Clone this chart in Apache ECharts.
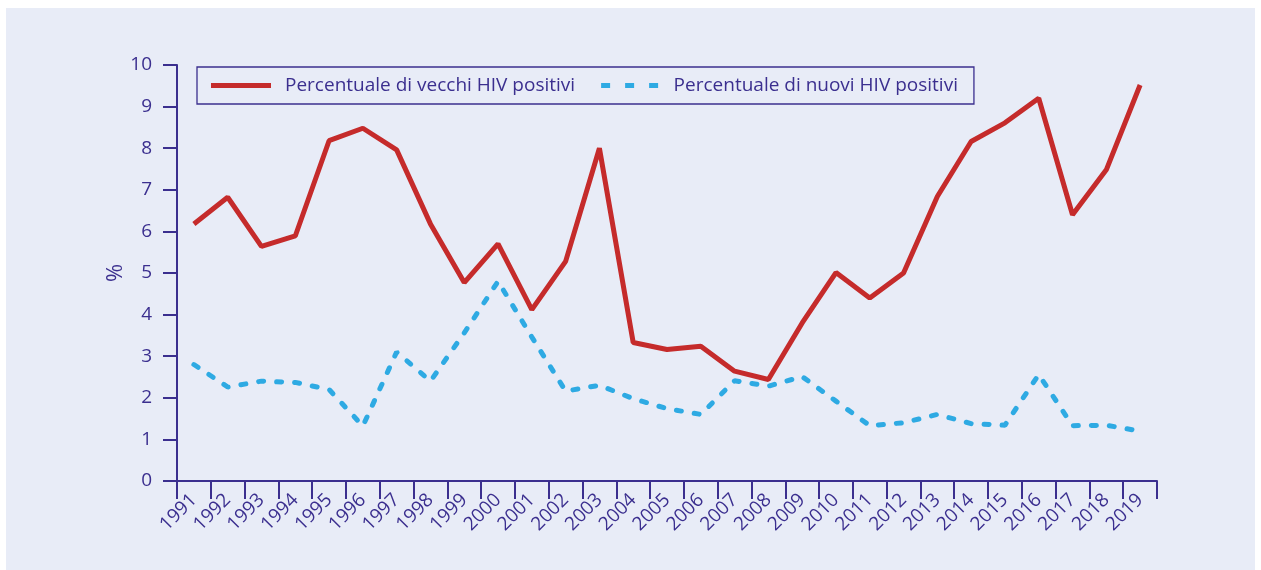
<!DOCTYPE html>
<html>
<head>
<meta charset="utf-8">
<script src="https://cdn.jsdelivr.net/npm/echarts@6/dist/echarts.min.js"></script>
<style>
  html, body { margin: 0; padding: 0; background: #ffffff; }
  #root { width: 1261px; height: 570px; }
</style>
</head>
<body>
<div id="root"></div>
<script>
// anni
var years = ['1991','1992','1993','1994','1995','1996','1997','1998','1999','2000',
  '2001','2002','2003','2004','2005','2006','2007','2008','2009','2010',
  '2011','2012','2013','2014','2015','2016','2017','2018','2019'];

// percentuale di vecchi HIV positivi
var vecchi = [6.18, 6.82, 5.64, 5.89, 8.18, 8.48, 7.96, 6.18, 4.77, 5.70,
  4.12, 5.28, 8.00, 3.33, 3.16, 3.24, 2.64, 2.44, 3.80, 5.01,
  4.40, 5.00, 6.84, 8.16, 8.61, 9.20, 6.40, 7.48, 9.52];

// percentuale di nuovi HIV positivi
var nuovi = [2.80, 2.26, 2.40, 2.37, 2.20, 1.32, 3.10, 2.40, 3.56, 4.80,
  3.46, 2.16, 2.30, 1.98, 1.74, 1.60, 2.41, 2.28, 2.51, 1.92,
  1.33, 1.40, 1.60, 1.38, 1.34, 2.56, 1.33, 1.34, 1.20];

var blu = '#3b2f8f';
var font = 'Open Sans';

var myChart = echarts.init(document.getElementById('root'));
myChart.setOption({
  backgroundColor: '#ffffff',
  textStyle: { fontFamily: font, color: blu },
  graphic: [{
    type: 'rect',
    z: -10,
    shape: { x: 6, y: 8, width: 1249, height: 562 },
    style: { fill: '#e8ecf7' }
  }],
  legend: {
    left: 197,
    top: 67,
    padding: [9, 16, 9, 14],
    borderColor: blu,
    borderWidth: 1.3,
    itemWidth: 60,
    itemHeight: 5,
    itemGap: 26,
    textStyle: { fontFamily: font, fontSize: 19, color: blu, padding: [0, 0, 0, 9] },
    data: [
      { name: 'Percentuale di vecchi HIV positivi', icon: 'path://M0,0h60v5h-60z' },
      { name: 'Percentuale di nuovi HIV positivi', icon: 'path://M0,0h9v5h-9z M24,0h9v5h-9z M48,0h9v5h-9z' }
    ]
  },
  grid: { left: 177, right: 104, top: 65, bottom: 89 },
  xAxis: {
    type: 'category',
    data: years,
    boundaryGap: true,
    axisLine: { lineStyle: { color: blu, width: 2 } },
    axisTick: { show: true, length: 18, lineStyle: { color: blu, width: 2 } },
    axisLabel: { rotate: 45, interval: 0, margin: 16, fontSize: 19, color: blu, fontFamily: font }
  },
  yAxis: {
    type: 'value',
    min: 0,
    max: 10,
    interval: 1,
    name: '%',
    nameLocation: 'middle',
    nameGap: 50,
    nameMoveOverlap: false,
    nameTextStyle: { fontSize: 22, color: blu, fontFamily: font },
    splitLine: { show: false },
    axisLine: { show: true, lineStyle: { color: blu, width: 2 } },
    axisTick: { show: true, length: 14, lineStyle: { color: blu, width: 2 } },
    axisLabel: { margin: 25, fontSize: 19, color: blu, fontFamily: font }
  },
  series: [
    {
      name: 'Percentuale di nuovi HIV positivi',
      type: 'line',
      data: nuovi,
      symbol: 'none',
      color: '#2eaae3',
      lineStyle: { color: '#2eaae3', width: 5, type: [5, 13], cap: 'round' }
    },
    {
      name: 'Percentuale di vecchi HIV positivi',
      type: 'line',
      data: vecchi,
      symbol: 'none',
      color: '#c52b2b',
      lineStyle: { color: '#c52b2b', width: 5 }
    }
  ]
});
</script>
</body>
</html>
